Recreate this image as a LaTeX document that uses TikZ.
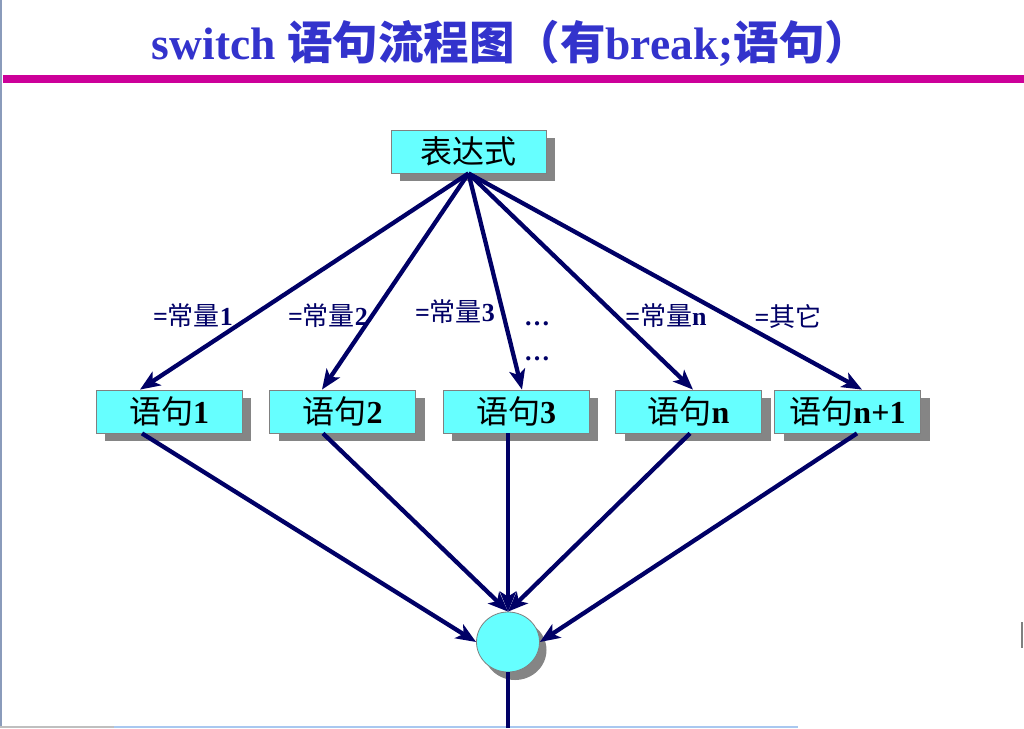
\documentclass[tikz,border=0pt]{standalone}
\usepackage{fontspec}
\setmainfont{Liberation Serif}
\newfontfamily\cjk{Noto Sans CJK SC}
\usetikzlibrary{arrows.meta,shadows,shapes.geometric,calc}
\definecolor{navy}{HTML}{000066}
\definecolor{titleblue}{HTML}{3333CC}
\definecolor{magentabar}{HTML}{CC0099}
\definecolor{cyanfill}{HTML}{66FFFF}
\definecolor{boxgray}{HTML}{808080}
\definecolor{shadowgray}{HTML}{858585}
\definecolor{edgeblue}{HTML}{8A9BBB}
\definecolor{bottomblue}{HTML}{A9C8F0}
\begin{document}
\begin{tikzpicture}[x=1pt,y=-1pt,
  box/.style={draw=boxgray, line width=0.8pt, fill=cyanfill, minimum height=43pt,
    inner sep=0pt, font=\fontsize{32}{32}\selectfont,
    general shadow={fill=shadowgray, shadow xshift=9pt, shadow yshift=-8pt}},
  arr/.style={navy, line width=4.3pt, -{Stealth[length=20pt,width=16pt,inset=5pt]}},
  plain/.style={navy, line width=4.3pt},
  lbl/.style={navy, inner sep=0pt, font=\fontsize{26}{26}\selectfont},
]
\useasboundingbox (0,0) rectangle (1024,728);
% slide frame artefacts
\draw[edgeblue, line width=2pt] (1,0) -- (1,728);
\draw[lightgray, line width=1.5pt] (0,727) -- (114,727);
\draw[bottomblue, line width=1.5pt] (114,727) -- (798,727);
\draw[gray, line width=2pt] (1022,622) -- (1022,648);
% title
\node[anchor=base, inner sep=0pt, titleblue, font=\fontsize{45.5}{46}\selectfont\bfseries] (title) at (511,59)
  {switch {\cjk 语句流程图（有}break;{\cjk 语句）}};
\fill[magentabar] (3,75) rectangle (1024,83);
% nodes
\node[box, minimum width=155pt] (expr) at (468.5,151.5) {\cjk 表达式};
\node[box, minimum width=146pt] (s1) at (169,411.5) {{\cjk 语句}\textbf{1}};
\node[box, minimum width=146pt] (s2) at (342.5,411.5) {{\cjk 语句}\textbf{2}};
\node[box, minimum width=146pt] (s3) at (516,411.5) {{\cjk 语句}\textbf{3}};
\node[box, minimum width=146pt] (sn) at (688.5,411.5) {{\cjk 语句}\textbf{n}};
\node[box, minimum width=146pt] (sn1) at (847.5,411.5) {{\cjk 语句}\textbf{n+1}};
\node[ellipse, draw=boxgray, line width=0.8pt, fill=cyanfill, minimum width=63pt, minimum height=60pt,
  inner sep=0pt, general shadow={fill=shadowgray, shadow xshift=7pt, shadow yshift=-8pt}] (ci) at (508,642) {};
\coordinate (out) at (508,728);
% labels
\node[lbl] (l1) at (193,316) {\textbf{=}{\cjk 常量}\textbf{1}};
\node[lbl] (l2) at (328,316) {\textbf{=}{\cjk 常量}\textbf{2}};
\node[lbl] (l3) at (455,312) {\textbf{=}{\cjk 常量}\textbf{3}};
\node[lbl, anchor=base] (d1) at (537,325) {\textbf{…}};
\node[lbl, anchor=base] (d2) at (537,360) {\textbf{…}};
\node[lbl] (ln) at (666,316) {\textbf{=}{\cjk 常量}\textbf{n}};
\node[lbl] (lo) at (788,316) {\textbf{=}{\cjk 其它}};
% connectors from expression
\draw[arr] (expr.south) -- ($(s1.north)+(-29,0)$);
\draw[arr] (expr.south) -- ($(s2.north)+(-20.5,0)$);
\draw[arr] (expr.south) -- ($(s3.north)+(6,0)$);
\draw[arr] (expr.south) -- ($(sn.north)+(4.5,0)$);
\draw[arr] (expr.south) -- ($(sn1.north)+(14.5,0)$);
% connectors to join circle
\draw[arr] ($(s1.south)+(-27,0)$) -- (ci.west);
\draw[arr] ($(s2.south)+(-19.5,0)$) -- (ci.north);
\draw[arr] ($(s3.south)+(-8,0)$) -- (ci.north);
\draw[arr] ($(sn.south)+(1.5,0)$) -- (ci.north);
\draw[arr] ($(sn1.south)+(9.5,0)$) -- (ci.east);
\draw[plain] (ci.south) -- (out);
\end{tikzpicture}
\end{document}
